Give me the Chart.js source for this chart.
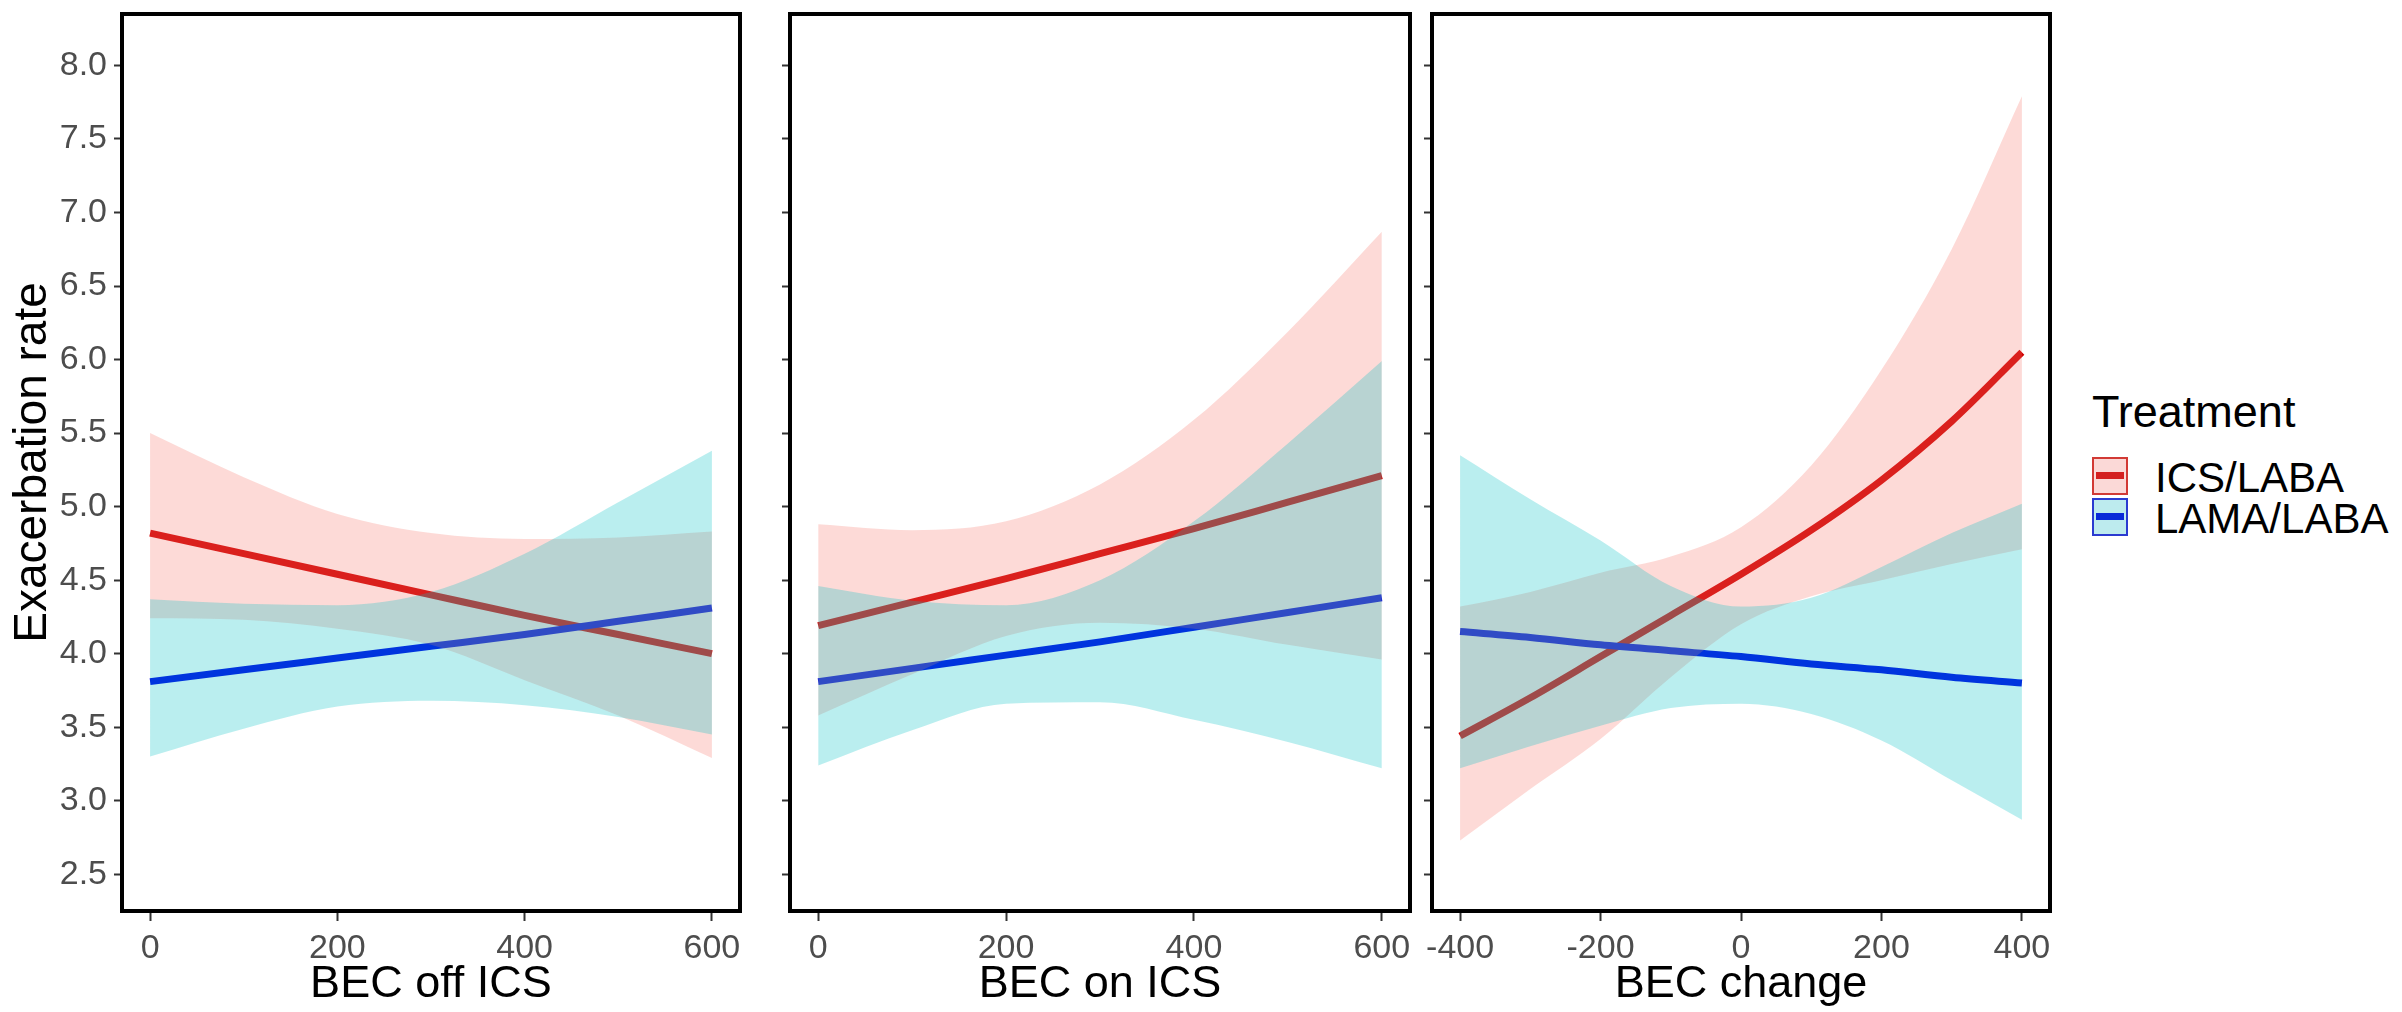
<!DOCTYPE html>
<html>
<head>
<meta charset="utf-8">
<script src="https://cdn.jsdelivr.net/npm/chart.js@4.4.1/dist/chart.umd.min.js"></script>
<style>
  body { margin: 0; background: #fff; }
  #wrap { position: relative; width: 2402px; height: 1012px; overflow: hidden; font-family: "Liberation Sans", Arial, sans-serif; }
  .panel { position: absolute; top: 0; }
  .txt { position: absolute; line-height: 1; white-space: nowrap; color: #000; }
  .key { position: absolute; left: 2092px; width: 32px; height: 34px; border: 2px solid; }
  .key div { position: absolute; left: 2px; top: 13px; width: 28px; height: 7px; }
</style>
</head>
<body>
<div id="wrap">
  <div class="panel" style="left:0px"><canvas id="offICS" width="760" height="1012"></canvas></div>
  <div class="panel" style="left:760px"><canvas id="onICS" width="670" height="1012"></canvas></div>
  <div class="panel" style="left:1410px"><canvas id="change" width="660" height="1012"></canvas></div>

  <div class="txt" style="left:2092px; top:389px; font-size:45px;">Treatment</div>
  <div class="key" style="top:457px; border-color:#d23a35; background:#fbd9d7;"><div style="background:#d42020;"></div></div>
  <div class="key" style="top:498px; border-color:#2a3bd0; background:#bdebee;"><div style="background:#0a2ad8;"></div></div>
  <div class="txt" style="left:2155px; top:457px; font-size:42px;">ICS/LABA</div>
  <div class="txt" style="left:2155px; top:498px; font-size:42px;">LAMA/LABA</div>
</div>
<script>
// y axis
const yTicks = [2.5, 3.0, 3.5, 4.0, 4.5, 5.0, 5.5, 6.0, 6.5, 7.0, 7.5, 8.0];

// BEC off ICS
const offX = [0, 100, 200, 300, 400, 500, 600];
const offTicks = [0, 200, 400, 600];
const offRedFit   = [4.82, 4.68, 4.54, 4.40, 4.26, 4.13, 4.00];
const offRedUpper = [5.50, 5.20, 4.95, 4.82, 4.78, 4.79, 4.83];
const offRedLower = [4.24, 4.23, 4.17, 4.06, 3.82, 3.58, 3.29];
const offBlueFit   = [3.81, 3.89, 3.97, 4.05, 4.13, 4.22, 4.31];
const offBlueUpper = [4.37, 4.34, 4.33, 4.42, 4.68, 5.03, 5.38];
const offBlueLower = [3.30, 3.49, 3.64, 3.68, 3.65, 3.57, 3.45];

// BEC on ICS
const onX = [0, 100, 200, 300, 400, 500, 600];
const onTicks = [0, 200, 400, 600];
const onRedFit   = [4.19, 4.35, 4.51, 4.68, 4.85, 5.03, 5.21];
const onRedUpper = [4.88, 4.84, 4.90, 5.15, 5.59, 6.19, 6.87];
const onRedLower = [3.58, 3.86, 4.12, 4.21, 4.17, 4.06, 3.96];
const onBlueFit   = [3.81, 3.90, 3.99, 4.08, 4.18, 4.28, 4.38];
const onBlueUpper = [4.46, 4.36, 4.33, 4.50, 4.90, 5.43, 5.99];
const onBlueLower = [3.24, 3.48, 3.66, 3.67, 3.55, 3.40, 3.22];

// BEC change
const chgX = [-400, -300, -200, -100, 0, 100, 200, 300, 400];
const chgTicks = [-400, -200, 0, 200, 400];
const chgRedFit   = [3.44, 3.70, 3.98, 4.26, 4.54, 4.84, 5.18, 5.58, 6.05];
const chgRedUpper = [4.32, 4.42, 4.55, 4.66, 4.86, 5.28, 5.93, 6.75, 7.79];
const chgRedLower = [2.73, 3.08, 3.42, 3.84, 4.20, 4.39, 4.50, 4.61, 4.71];
const chgBlueFit   = [4.15, 4.11, 4.06, 4.02, 3.98, 3.93, 3.89, 3.84, 3.80];
const chgBlueUpper = [5.35, 5.05, 4.77, 4.46, 4.32, 4.38, 4.59, 4.82, 5.02];
const chgBlueLower = [3.22, 3.37, 3.51, 3.63, 3.66, 3.59, 3.41, 3.14, 2.87];

const RED = "#d00000";
const BLUE = "#0000e8";
const PINK_FILL = "rgba(248, 118, 109, 0.27)";
const CYAN_FILL = "rgba(0, 191, 196, 0.27)";
const FONT = "'Liberation Sans', Arial, sans-serif";

const pts = (xs, ys) => xs.map((x, i) => ({ x: x, y: ys[i] }));

// thick black panel border
const panelBorder = {
  id: "panelBorder",
  afterDraw(chart) {
    const a = chart.chartArea;
    const c = chart.ctx;
    c.save();
    c.strokeStyle = "#000";
    c.lineWidth = 4;
    c.strokeRect(a.left, a.top, a.right - a.left, a.bottom - a.top);
    c.restore();
  },
};

function band(data, fill, ord) {
  return {
    data: data,
    borderWidth: 0,
    pointRadius: 0,
    backgroundColor: fill || "transparent",
    fill: fill ? "-1" : false,
    cubicInterpolationMode: "monotone",
    order: ord,
  };
}

function line(data, color) {
  return {
    data: data,
    borderColor: color,
    borderWidth: 7,
    pointRadius: 0,
    fill: false,
    cubicInterpolationMode: "monotone",
    order: 1,
  };
}

function makePanel(id, xs, xTicks, xMin, xMax, title, yWidth, showY, s) {
  new Chart(document.getElementById(id), {
    type: "line",
    data: {
      datasets: [
        band(pts(xs, s.blueUp), null, 0),
        band(pts(xs, s.blueLo), CYAN_FILL, 0),
        band(pts(xs, s.redUp), null, 0),
        band(pts(xs, s.redLo), PINK_FILL, 0),
        line(pts(xs, s.blue), BLUE),
        line(pts(xs, s.red), RED),
      ],
    },
    options: {
      responsive: false,
      animation: false,
      devicePixelRatio: 1,
      layout: { padding: { top: 14, right: 20, left: 0, bottom: 0 } },
      plugins: { legend: { display: false }, tooltip: { enabled: false } },
      scales: {
        x: {
          type: "linear",
          min: xMin,
          max: xMax,
          afterBuildTicks: (sc) => { sc.ticks = xTicks.map((v) => ({ value: v })); },
          afterFit: (sc) => {
            sc.height = 101;
            sc.paddingLeft = 0;
            sc.paddingRight = 0;
          },
          ticks: {
            color: "#4d4d4d",
            font: { family: FONT, size: 34 },
            padding: 7,
            maxRotation: 0,
          },
          grid: { drawOnChartArea: false, tickLength: 10, tickColor: "#333", tickWidth: 2 },
          border: { display: false },
          title: {
            display: true,
            text: title,
            color: "#000",
            font: { family: FONT, size: 45 },
            padding: { top: 0, bottom: 0 },
          },
        },
        y: {
          min: 2.25,
          max: 8.35,
          afterBuildTicks: (sc) => { sc.ticks = yTicks.map((v) => ({ value: v })); },
          afterFit: (sc) => {
            sc.width = yWidth;
            sc.paddingTop = 0;
            sc.paddingBottom = 0;
          },
          ticks: {
            display: showY,
            color: "#4d4d4d",
            font: { family: FONT, size: 34 },
            padding: 7,
            callback: (v) => Number(v).toFixed(1),
          },
          grid: { drawOnChartArea: false, tickLength: 8, tickColor: "#333", tickWidth: 2 },
          border: { display: false },
          title: {
            display: showY,
            text: "Exacerbation rate",
            color: "#000",
            font: { family: FONT, size: 46 },
            padding: { top: 6, bottom: 0 },
          },
        },
      },
    },
    plugins: [panelBorder],
  });
}

makePanel("offICS", offX, offTicks, -30, 630, "BEC off ICS", 122, true, {
  red: offRedFit, redUp: offRedUpper, redLo: offRedLower,
  blue: offBlueFit, blueUp: offBlueUpper, blueLo: offBlueLower,
});
makePanel("onICS", onX, onTicks, -30, 630, "BEC on ICS", 30, false, {
  red: onRedFit, redUp: onRedUpper, redLo: onRedLower,
  blue: onBlueFit, blueUp: onBlueUpper, blueLo: onBlueLower,
});
makePanel("change", chgX, chgTicks, -440, 440, "BEC change", 22, false, {
  red: chgRedFit, redUp: chgRedUpper, redLo: chgRedLower,
  blue: chgBlueFit, blueUp: chgBlueUpper, blueLo: chgBlueLower,
});
</script>
</body>
</html>
